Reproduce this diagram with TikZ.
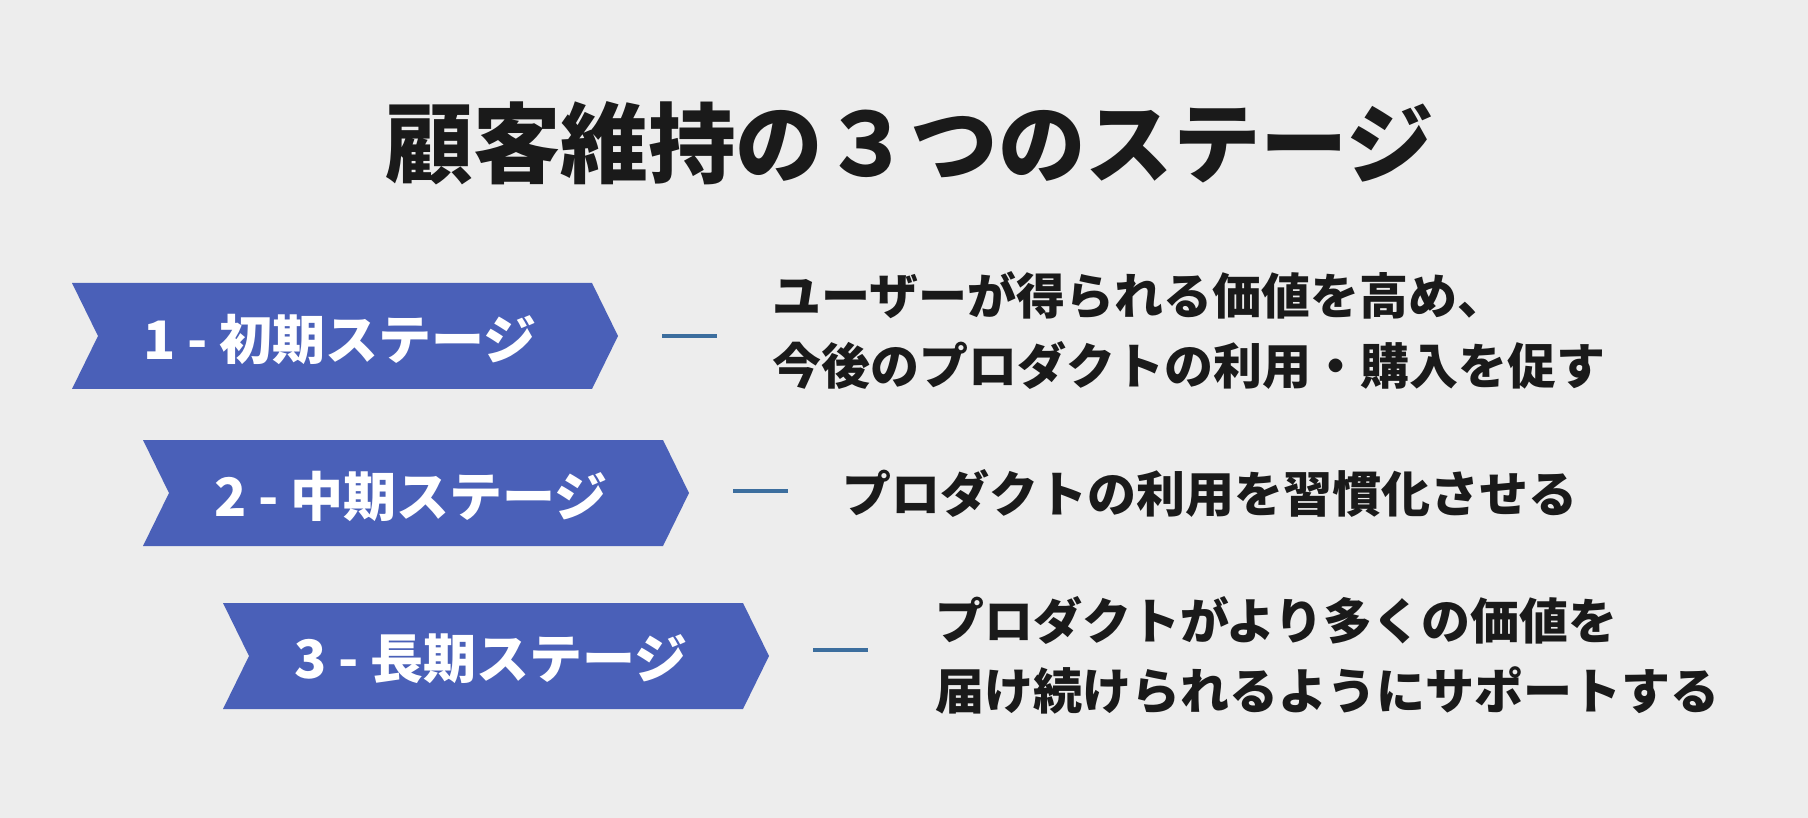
\documentclass[tikz,border=0pt]{standalone}
\usepackage{fontspec}
\setmainfont{Noto Sans CJK JP}
\definecolor{bg}{HTML}{EDEDED}
\definecolor{chev}{HTML}{4A60B8}
\definecolor{dashc}{HTML}{3C6E9E}
\definecolor{ink}{HTML}{1A1A1A}
\begin{document}
\begin{tikzpicture}[x=1pt,y=-1pt,
  chevron/.style={fill=chev},
  stagelabel/.style={text=white,font=\fontsize{53}{60}\selectfont\bfseries,inner sep=0pt},
  desc/.style={text=ink,font=\fontsize{49}{70}\selectfont\bfseries,align=left,anchor=west,inner sep=0pt},
  sepline/.style={draw=dashc,line width=4pt},
  titletext/.style={text=ink,font=\fontsize{87.5}{100}\selectfont\bfseries,inner sep=0pt}]
\fill[bg] (0,0) rectangle (1808,818);
\useasboundingbox (0,0) rectangle (1808,818);
\node[titletext] (title) at (910,143) {顧客維持の３つのステージ};
% chevrons
\fill[chevron] (72,283) -- (592,283) -- (618,336) -- (592,389) -- (72,389) -- (98,336) -- cycle;
\fill[chevron] (143,440) -- (663,440) -- (689,493) -- (663,546) -- (143,546) -- (169,493) -- cycle;
\fill[chevron] (223,603) -- (743,603) -- (769,656) -- (743,709) -- (223,709) -- (249,656) -- cycle;
\node[stagelabel] (l1) at (340,339) {1 - 初期ステージ};
\node[stagelabel] (l2) at (411,496) {2 - 中期ステージ};
\node[stagelabel] (l3) at (491,659) {3 - 長期ステージ};
% descriptions
\node[desc] (d1) at (772,331) {ユーザーが得られる価値を高め、\\今後のプロダクトの利用・購入を促す};
\node[desc] (d2) at (842,493) {プロダクトの利用を習慣化させる};
\node[desc] (d3) at (935,655) {プロダクトがより多くの価値を\\届け続けられるようにサポートする};
% separators
\coordinate (s1a) at (662,336); \coordinate (s1b) at (717,336);
\coordinate (s2a) at (733,491); \coordinate (s2b) at (788,491);
\coordinate (s3a) at (813,650); \coordinate (s3b) at (868,650);
\draw[sepline] (s1a) -- (s1b);
\draw[sepline] (s2a) -- (s2b);
\draw[sepline] (s3a) -- (s3b);
\end{tikzpicture}
\end{document}
